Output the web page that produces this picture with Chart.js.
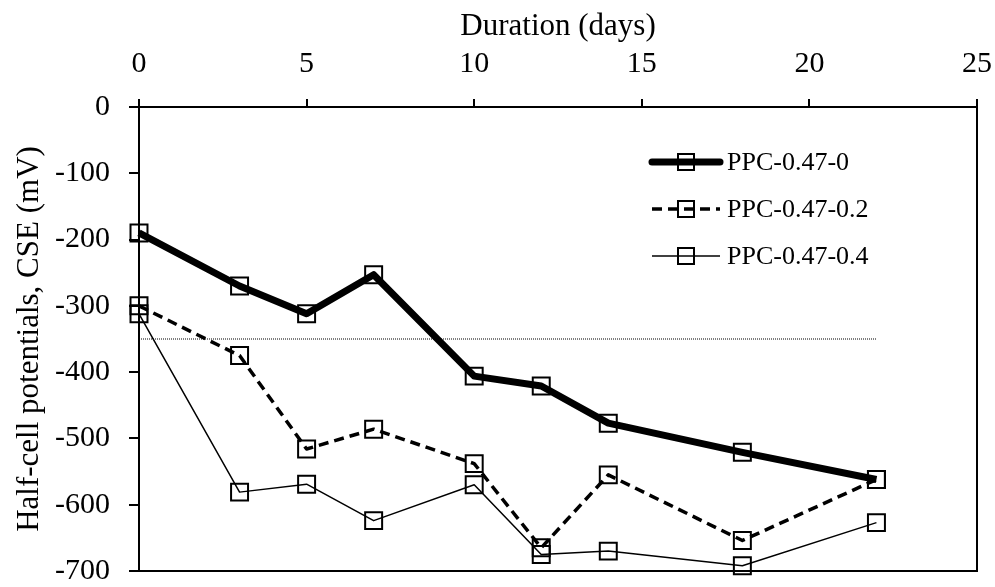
<!DOCTYPE html>
<html>
<head>
<meta charset="utf-8">
<script src="https://cdn.jsdelivr.net/npm/chart.js@4.4.0/dist/chart.umd.min.js"></script>
<style>
    html, body { margin: 0; padding: 0; background: #fff; }
</style>
</head>
<body>
<canvas id="line-chart" width="995" height="587"></canvas>
<script>
// values
var days = [0, 3, 5, 7, 10, 12, 14, 18, 22];
var ppc0 = [-190, -270, -312, -253, -406, -421, -477, -521, -562];
var ppc02 = [-300, -375, -516, -486, -538, -665, -555, -654, -562];
var ppc04 = [-312, -581, -569, -624, -570, -675, -670, -692, -627];
var seriesNames = ["PPC-0.47-0", "PPC-0.47-0.2", "PPC-0.47-0.4"];
var thresholdValue = -350;
var thresholdDays = [0, 22];
var xTicks = [0, 5, 10, 15, 20, 25];
var yTicks = [0, -100, -200, -300, -400, -500, -600, -700];

var SERIF = "'Liberation Serif', 'Times New Roman', serif";

function toPoints(xs, ys) {
    return xs.map(function (x, i) { return {x: x, y: ys[i]}; });
}

function seriesDataset(label, values, width, dash) {
    return {
        label: label,
        data: toPoints(days, values),
        borderColor: "#000",
        borderWidth: width,
        borderDash: dash,
        borderJoinStyle: "round",
        tension: 0,
        fill: false,
        clip: false,
        pointStyle: "rect",
        pointRadius: 12,
        pointHoverRadius: 12,
        pointBorderWidth: 2,
        pointBorderColor: "#000",
        pointBackgroundColor: "rgba(0,0,0,0)"
    };
}

// right and bottom edges of the plot box
var frame = {
    id: "frame",
    beforeDatasetsDraw: function (chart) {
        var a = chart.chartArea, ctx = chart.ctx;
        ctx.save();
        ctx.strokeStyle = "#000";
        ctx.lineWidth = 2;
        ctx.beginPath();
        ctx.moveTo(a.left, a.bottom);
        ctx.lineTo(a.right, a.bottom);
        ctx.lineTo(a.right, a.top);
        ctx.stroke();
        ctx.restore();
    }
};

// legend inside the plot, line + square marker like the reference
var innerLegend = {
    id: "innerLegend",
    afterDraw: function (chart) {
        var ctx = chart.ctx, a = chart.chartArea;
        ctx.save();
        for (var i = 0; i < seriesNames.length; i++) {
            var ds = chart.data.datasets[i];
            var y = a.top + 55 + i * 47;
            var x0 = a.left + 513, x1 = a.left + 581, xm = (x0 + x1) / 2;
            ctx.strokeStyle = "#000";
            ctx.lineWidth = ds.borderWidth;
            ctx.lineCap = ds.borderWidth > 4 ? "round" : "butt";
            ctx.setLineDash(ds.borderDash || []);
            ctx.beginPath();
            ctx.moveTo(x0, y);
            ctx.lineTo(x1, y);
            ctx.stroke();
            ctx.setLineDash([]);
            ctx.lineWidth = 2;
            ctx.strokeRect(xm - 8, y - 8, 16, 16);
            ctx.fillStyle = "#000";
            ctx.font = "26px " + SERIF;
            ctx.textBaseline = "middle";
            ctx.textAlign = "left";
            ctx.fillText(seriesNames[i], x1 + 7, y + 1);
        }
        ctx.restore();
    }
};

new Chart(document.getElementById("line-chart").getContext("2d"), {
    type: "line",
    data: {
        datasets: [
            seriesDataset(seriesNames[0], ppc0, 7, []),
            seriesDataset(seriesNames[1], ppc02, 3.5, [10, 6]),
            seriesDataset(seriesNames[2], ppc04, 1.5, []),
            {
                label: "threshold",
                data: toPoints(thresholdDays, [thresholdValue, thresholdValue]),
                borderColor: "#000",
                borderWidth: 1,
                borderDash: [1, 1],
                pointRadius: 0,
                tension: 0,
                fill: false
            }
        ]
    },
    options: {
        responsive: false,
        animation: false,
        layout: {padding: {left: 0, top: 0, right: 18, bottom: 16}},
        plugins: {
            legend: {display: false},
            tooltip: {enabled: false}
        },
        scales: {
            x: {
                type: "linear",
                position: "top",
                min: 0,
                max: 25,
                afterBuildTicks: function (s) { s.ticks = xTicks.map(function (v) { return {value: v}; }); },
                afterFit: function (s) { s.height = 107; s.paddingLeft = 0; s.paddingRight = 0; },
                ticks: {color: "#000", padding: 17, font: {family: SERIF, size: 30}},
                grid: {drawOnChartArea: false, drawTicks: true, tickLength: 8, color: "#000", lineWidth: 2},
                border: {display: true, color: "#000", width: 2},
                title: {
                    display: true,
                    text: "Duration (days)",
                    color: "#000",
                    font: {family: SERIF, size: 31},
                    padding: {top: 8, bottom: 0}
                }
            },
            y: {
                min: -700,
                max: 0,
                afterBuildTicks: function (s) { s.ticks = yTicks.map(function (v) { return {value: v}; }); },
                afterFit: function (s) { s.width = 139; s.paddingTop = 0; s.paddingBottom = 0; },
                ticks: {color: "#000", padding: 19, font: {family: SERIF, size: 30}},
                grid: {drawOnChartArea: false, drawTicks: true, tickLength: 10, color: "#000", lineWidth: 2},
                border: {display: true, color: "#000", width: 2},
                title: {
                    display: true,
                    text: "Half-cell potentials, CSE (mV)",
                    color: "#000",
                    font: {family: SERIF, size: 31},
                    padding: {top: 11, bottom: 0}
                }
            }
        }
    },
    plugins: [frame, innerLegend]
});
</script>
</body>
</html>
